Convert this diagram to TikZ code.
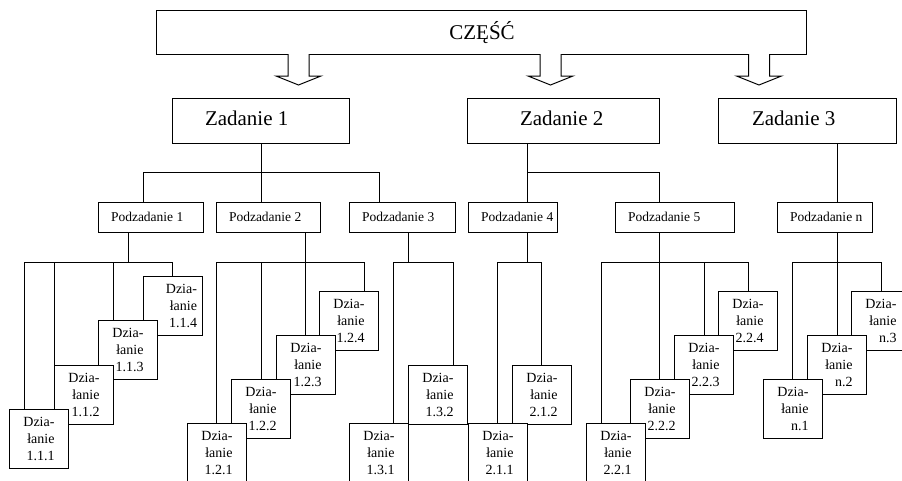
\documentclass[tikz,border=0pt]{standalone}
\usepackage{fontspec}
\setmainfont{Liberation Serif}
\begin{document}
\begin{tikzpicture}[x=1pt,y=-1pt,
  ln/.style={line width=1pt},
  bx/.style={draw, line width=1pt, fill=white, inner sep=0pt, outer sep=0pt},
  zbox/.style={bx, anchor=north west, minimum height=45pt},
  pbox/.style={bx, anchor=north west, minimum height=30pt},
  bigtxt/.style={font=\fontsize{21}{25}\selectfont, inner sep=0pt, outer sep=0pt},
  ptxt/.style={font=\fontsize{13.5}{16}\selectfont, inner sep=0pt, outer sep=0pt, anchor=west},
  act/.style={bx, anchor=north west, minimum width=59pt, minimum height=59pt,
              text width=32pt, inner xsep=13.5pt, align=right,
              font=\fontsize{14}{17}\selectfont},
  hollow/.style={line width=1pt, fill=white, line join=miter},
]
\useasboundingbox (0,0) rectangle (902,480);
\clip (0,0) rectangle (902,480);

% ---------- top box ----------
\node[bx, anchor=north west, minimum width=650pt, minimum height=44pt] (cz) at (156,10) {};
\node[bigtxt, anchor=base] (czt) at ([xshift=1pt,yshift=-7.3pt]cz.center) {CZĘŚĆ};

% ---------- hollow arrows ----------
\coordinate (ar1) at (298.5,54);
\coordinate (ar2) at (550.5,54);
\coordinate (ar3) at (759,54);
\draw[hollow] (ar1) ++(-10.5,0) -- ++(0,22) -- ++(-12,0) -- ++(22.5,9) -- ++(22.5,-9) -- ++(-12,0) -- ++(0,-22);
\draw[hollow] (ar2) ++(-10.5,0) -- ++(0,22) -- ++(-12,0) -- ++(22.5,9) -- ++(22.5,-9) -- ++(-12,0) -- ++(0,-22);
\draw[hollow] (ar3) ++(-10.5,0) -- ++(0,22) -- ++(-12,0) -- ++(22.5,9) -- ++(22.5,-9) -- ++(-12,0) -- ++(0,-22);

% ---------- Zadanie boxes ----------
\node[zbox, minimum width=177pt] (z1) at (172,98) {};
\node[zbox, minimum width=192pt] (z2) at (467,98) {};
\node[zbox, minimum width=178pt] (z3) at (718,98) {};
\node[bigtxt, anchor=base west] (z1t) at ([xshift=33pt,yshift=-4.5pt]z1.west) {Zadanie 1};
\node[bigtxt, anchor=base west] (z2t) at ([xshift=53pt,yshift=-4.5pt]z2.west) {Zadanie 2};
\node[bigtxt, anchor=base west] (z3t) at ([xshift=34pt,yshift=-4.5pt]z3.west) {Zadanie 3};

% ---------- Podzadanie boxes ----------
\node[pbox, minimum width=105pt] (p1) at (98,202) {};
\node[pbox, minimum width=104pt] (p2) at (216,202) {};
\node[pbox, minimum width=106pt] (p3) at (349,202) {};
\node[pbox, minimum width=89pt]  (p4) at (468,202) {};
\node[pbox, minimum width=119pt] (p5) at (615,202) {};
\node[pbox, minimum width=95pt]  (pn) at (777,202) {};
\node[ptxt] (p1t) at ([xshift=13pt]p1.west) {Podzadanie 1};
\node[ptxt] (p2t) at ([xshift=13pt]p2.west) {Podzadanie 2};
\node[ptxt] (p3t) at ([xshift=13pt]p3.west) {Podzadanie 3};
\node[ptxt] (p4t) at ([xshift=13pt]p4.west) {Podzadanie 4};
\node[ptxt] (p5t) at ([xshift=13pt]p5.west) {Podzadanie 5};
\node[ptxt] (pnt) at ([xshift=13pt]pn.west) {Podzadanie n};

% ---------- Dzialanie boxes (upper ones first, lower ones on top) ----------
\node[act, inner xsep=5pt, text width=49pt] (a114) at (143,276) {Dzia-\\łanie\\1.1.4};
\node[act] (a113) at (98,320) {Dzia-\\łanie\\1.1.3};
\node[act] (a112) at (54,365) {Dzia-\\łanie\\1.1.2};
\node[act] (a111) at (9,409) {Dzia-\\łanie\\1.1.1};

\node[act] (a124) at (319,291) {Dzia-\\łanie\\1.2.4};
\node[act] (a123) at (276,335) {Dzia-\\łanie\\1.2.3};
\node[act] (a122) at (231,379) {Dzia-\\łanie\\1.2.2};
\node[act] (a121) at (187,423) {Dzia-\\łanie\\1.2.1};

\node[act] (a132) at (408,365) {Dzia-\\łanie\\1.3.2};
\node[act] (a131) at (349,423) {Dzia-\\łanie\\1.3.1};

\node[act] (a212) at (512,365) {Dzia-\\łanie\\2.1.2};
\node[act] (a211) at (468,423) {Dzia-\\łanie\\2.1.1};

\node[act] (a224) at (718,291) {Dzia-\\łanie\\2.2.4};
\node[act] (a223) at (674,335) {Dzia-\\łanie\\2.2.3};
\node[act] (a222) at (630,379) {Dzia-\\łanie\\2.2.2};
\node[act] (a221) at (586,423) {Dzia-\\łanie\\2.2.1};

\node[act] (an3) at (851,291) {Dzia-\\łanie\\n.3};
\node[act] (an2) at (807,335) {Dzia-\\łanie\\n.2};
\node[act] (an1) at (763,379) {Dzia-\\łanie\\n.1};

% ---------- Zadanie -> Podzadanie connectors ----------
\coordinate (q1) at (143,172);
\coordinate (q2) at (261,172);
\coordinate (q3) at (379,172);
\coordinate (q4) at (527,172);
\coordinate (q5) at (659,172);
\coordinate (q6) at (837,172);
\draw[ln] (z1.south -| q2) -- (q2);
\draw[ln] (q1) -- (q3);
\draw[ln] (q1) -- (q1 |- p1.north);
\draw[ln] (q2) -- (q2 |- p2.north);
\draw[ln] (q3) -- (q3 |- p3.north);
\draw[ln] (z2.south -| q4) -- (q4) -- (q5);
\draw[ln] (q4) -- (q4 |- p4.north);
\draw[ln] (q5) -- (q5 |- p5.north);
\draw[ln] (z3.south -| q6) -- (q6 |- pn.north);

% ---------- Podzadanie -> Dzialanie connectors ----------
% group 1
\coordinate (g1) at (128,262);
\coordinate (c111) at (24,262);
\coordinate (c112) at (54,262);
\coordinate (c113) at (113,262);
\coordinate (c114) at (172,262);
\draw[ln] (p1.south -| g1) -- (g1);
\draw[ln] (c111) -- (c114);
\draw[ln] (c111) -- (c111 |- a111.north);
\draw[ln] (c112) -- (c112 |- a112.north);
\draw[ln] (c113) -- (c113 |- a113.north);
\draw[ln] (c114) -- (c114 |- a114.north);
% group 2
\coordinate (g2) at (305,262);
\coordinate (c121) at (216,262);
\coordinate (c122) at (261,262);
\coordinate (c123) at (305,262);
\coordinate (c124) at (364,262);
\draw[ln] (p2.south -| g2) -- (g2);
\draw[ln] (c121) -- (c124);
\draw[ln] (c121) -- (c121 |- a121.north);
\draw[ln] (c122) -- (c122 |- a122.north);
\draw[ln] (c123) -- (c123 |- a123.north);
\draw[ln] (c124) -- (c124 |- a124.north);
% group 3
\coordinate (g3) at (408,262);
\coordinate (c131) at (393,262);
\coordinate (c132) at (453,262);
\draw[ln] (p3.south -| g3) -- (g3);
\draw[ln] (c131) -- (c132);
\draw[ln] (c131) -- (c131 |- a131.north);
\draw[ln] (c132) -- (c132 |- a132.north);
% group 4
\coordinate (g4) at (527,262);
\coordinate (c211) at (497,262);
\coordinate (c212) at (541,262);
\draw[ln] (p4.south -| g4) -- (g4);
\draw[ln] (c211) -- (c212);
\draw[ln] (c211) -- (c211 |- a211.north);
\draw[ln] (c212) -- (c212 |- a212.north);
% group 5
\coordinate (g5) at (659,262);
\coordinate (c221) at (601,262);
\coordinate (c222) at (659,262);
\coordinate (c223) at (704,262);
\coordinate (c224) at (748,262);
\draw[ln] (p5.south -| g5) -- (g5);
\draw[ln] (c221) -- (c224);
\draw[ln] (c221) -- (c221 |- a221.north);
\draw[ln] (c222) -- (c222 |- a222.north);
\draw[ln] (c223) -- (c223 |- a223.north);
\draw[ln] (c224) -- (c224 |- a224.north);
% group n
\coordinate (gn) at (837,262);
\coordinate (cn1) at (792,262);
\coordinate (cn2) at (837,262);
\coordinate (cn3) at (881,262);
\draw[ln] (pn.south -| gn) -- (gn);
\draw[ln] (cn1) -- (cn3);
\draw[ln] (cn1) -- (cn1 |- an1.north);
\draw[ln] (cn2) -- (cn2 |- an2.north);
\draw[ln] (cn3) -- (cn3 |- an3.north);
\end{tikzpicture}
\end{document}
